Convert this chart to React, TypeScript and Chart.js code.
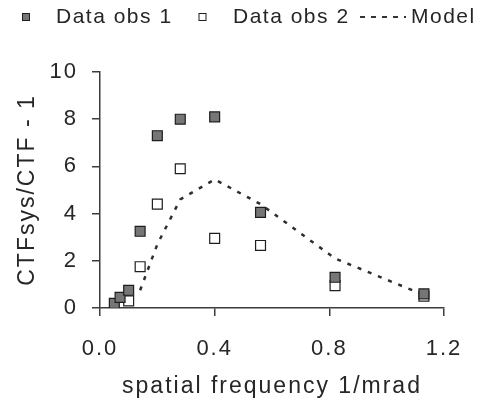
import React, { useEffect, useRef } from 'react';
import { Chart, registerables } from 'chart.js';

Chart.register(...registerables);

// Measured CTF ratio, first set of observations
const FREQ_OBS1 = [0.05, 0.07, 0.1, 0.14, 0.2, 0.28, 0.4, 0.56, 0.82, 1.13];
const RATIO_OBS1 = [0.2, 0.45, 0.75, 3.25, 7.3, 8.0, 8.1, 4.05, 1.3, 0.6];

// Second set of observations
const FREQ_OBS2 = [0.1, 0.14, 0.2, 0.28, 0.4, 0.56, 0.82, 1.13];
const RATIO_OBS2 = [0.3, 1.75, 4.4, 5.9, 2.95, 2.65, 0.95, 0.5];

// Model prediction
const FREQ_MODEL = [0.14, 0.2, 0.28, 0.4, 0.56, 0.82, 1.13];
const RATIO_MODEL = [0.75, 2.7, 4.6, 5.45, 4.4, 2.1, 0.55];

const SERIES_LABELS = ['Data obs 1', 'Data obs 2', 'Model'];
const X_TICKS = [0, 0.4, 0.8, 1.2];
const Y_TICKS = [0, 2, 4, 6, 8, 10];
const X_TITLE = 'spatial frequency 1/mrad';
const Y_TITLE = 'CTFsys/CTF - 1';

const FONT = '"Liberation Sans", Arial, Helvetica, sans-serif';
const TEXT = '#262626';
const AXIS = '#3c3c3c';
const GRAY_FILL = '#767676';
const MARK_EDGE = '#1e1e1e';
const MODEL_DASH = [4, 7];

const pairs = (xs: number[], ys: number[]) => xs.map((x, i) => ({ x, y: ys[i] }));

// Wider tracking for all axis text
const trackingPlugin = {
  id: 'tracking',
  beforeDraw(chart: any) {
    chart.ctx.letterSpacing = '2px';
  },
};

// Legend row across the top
const legendPlugin = {
  id: 'topLegend',
  afterDraw(chart: any) {
    const ctx = chart.ctx as CanvasRenderingContext2D;
    const y = 17;
    ctx.save();
    (ctx as any).letterSpacing = '1.5px';
    ctx.font = `21px ${FONT}`;
    ctx.fillStyle = TEXT;
    ctx.textBaseline = 'middle';
    ctx.textAlign = 'left';

    const square = (cx: number, fill: string) => {
      ctx.fillStyle = fill;
      ctx.fillRect(cx - 3.5, y - 3.5, 7, 7);
      ctx.strokeStyle = MARK_EDGE;
      ctx.lineWidth = 1;
      ctx.strokeRect(cx - 3.5, y - 3.5, 7, 7);
      ctx.fillStyle = TEXT;
    };

    square(26, GRAY_FILL);
    ctx.fillText(SERIES_LABELS[0], 56, y);
    square(202.5, '#ffffff');
    ctx.fillText(SERIES_LABELS[1], 233, y);

    ctx.beginPath();
    ctx.setLineDash([5, 6]);
    ctx.strokeStyle = '#333';
    ctx.lineWidth = 2;
    ctx.moveTo(360, y);
    ctx.lineTo(406, y);
    ctx.stroke();
    ctx.setLineDash([]);
    ctx.fillText(SERIES_LABELS[2], 411, y);
    ctx.restore();
  },
};

export default function App() {
  const canvasRef = useRef<HTMLCanvasElement | null>(null);

  useEffect(() => {
    const canvas = canvasRef.current;
    if (!canvas) return;

    const chart = new Chart(canvas, {
      type: 'scatter',
      data: {
        datasets: [
          {
            label: SERIES_LABELS[0],
            data: pairs(FREQ_OBS1, RATIO_OBS1),
            pointStyle: 'rect',
            pointRadius: 7,
            backgroundColor: GRAY_FILL,
            borderColor: MARK_EDGE,
            borderWidth: 1.2,
            showLine: false,
          },
          {
            label: SERIES_LABELS[1],
            data: pairs(FREQ_OBS2, RATIO_OBS2),
            pointStyle: 'rect',
            pointRadius: 7,
            backgroundColor: '#ffffff',
            borderColor: MARK_EDGE,
            borderWidth: 1.2,
            showLine: false,
          },
          {
            label: SERIES_LABELS[2],
            data: pairs(FREQ_MODEL, RATIO_MODEL),
            showLine: true,
            pointRadius: 0,
            borderColor: '#2e2e2e',
            borderWidth: 2.5,
            borderDash: MODEL_DASH,
            tension: 0,
            fill: false,
          },
        ],
      },
      options: {
        responsive: false,
        devicePixelRatio: 1,
        animation: false,
        layout: { padding: { top: 72, right: 39, bottom: 0, left: 0 } },
        plugins: {
          legend: { display: false },
          tooltip: { enabled: false },
        },
        scales: {
          x: {
            type: 'linear',
            min: 0,
            max: 1.2,
            afterBuildTicks: (scale: any) => {
              scale.ticks = X_TICKS.map((value) => ({ value }));
            },
            afterFit: (scale: any) => {
              scale.height = 103;
            },
            ticks: {
              color: TEXT,
              font: { family: FONT, size: 22 },
              padding: 20,
              maxRotation: 0,
              callback: (v: any) => Number(v).toFixed(1),
            },
            grid: {
              drawOnChartArea: false,
              drawTicks: true,
              tickLength: 8,
              color: AXIS,
              lineWidth: 1.5,
            },
            border: { color: AXIS, width: 1.5 },
            title: {
              display: true,
              text: X_TITLE,
              color: TEXT,
              font: { family: FONT, size: 23 },
              padding: { top: 0, bottom: 11 },
            },
          },
          y: {
            type: 'linear',
            min: 0,
            max: 10,
            afterBuildTicks: (scale: any) => {
              scale.ticks = Y_TICKS.map((value) => ({ value }));
            },
            afterFit: (scale: any) => {
              scale.width = 100;
            },
            ticks: {
              color: TEXT,
              font: { family: FONT, size: 22 },
              padding: 14,
              callback: (v: any) => String(v),
            },
            grid: {
              drawOnChartArea: false,
              drawTicks: true,
              tickLength: 8,
              color: AXIS,
              lineWidth: 1.5,
            },
            border: { color: AXIS, width: 1.5 },
            title: {
              display: true,
              text: Y_TITLE,
              color: TEXT,
              font: { family: FONT, size: 23 },
              padding: { top: 14, bottom: 0 },
            },
          },
        },
      },
      plugins: [trackingPlugin, legendPlugin],
    });

    return () => chart.destroy();
  }, []);

  return (
    <div style={{ position: 'absolute', left: 0, top: 0, width: 483, height: 411, background: '#ffffff' }}>
      <canvas ref={canvasRef} width={483} height={411} />
    </div>
  );
}
